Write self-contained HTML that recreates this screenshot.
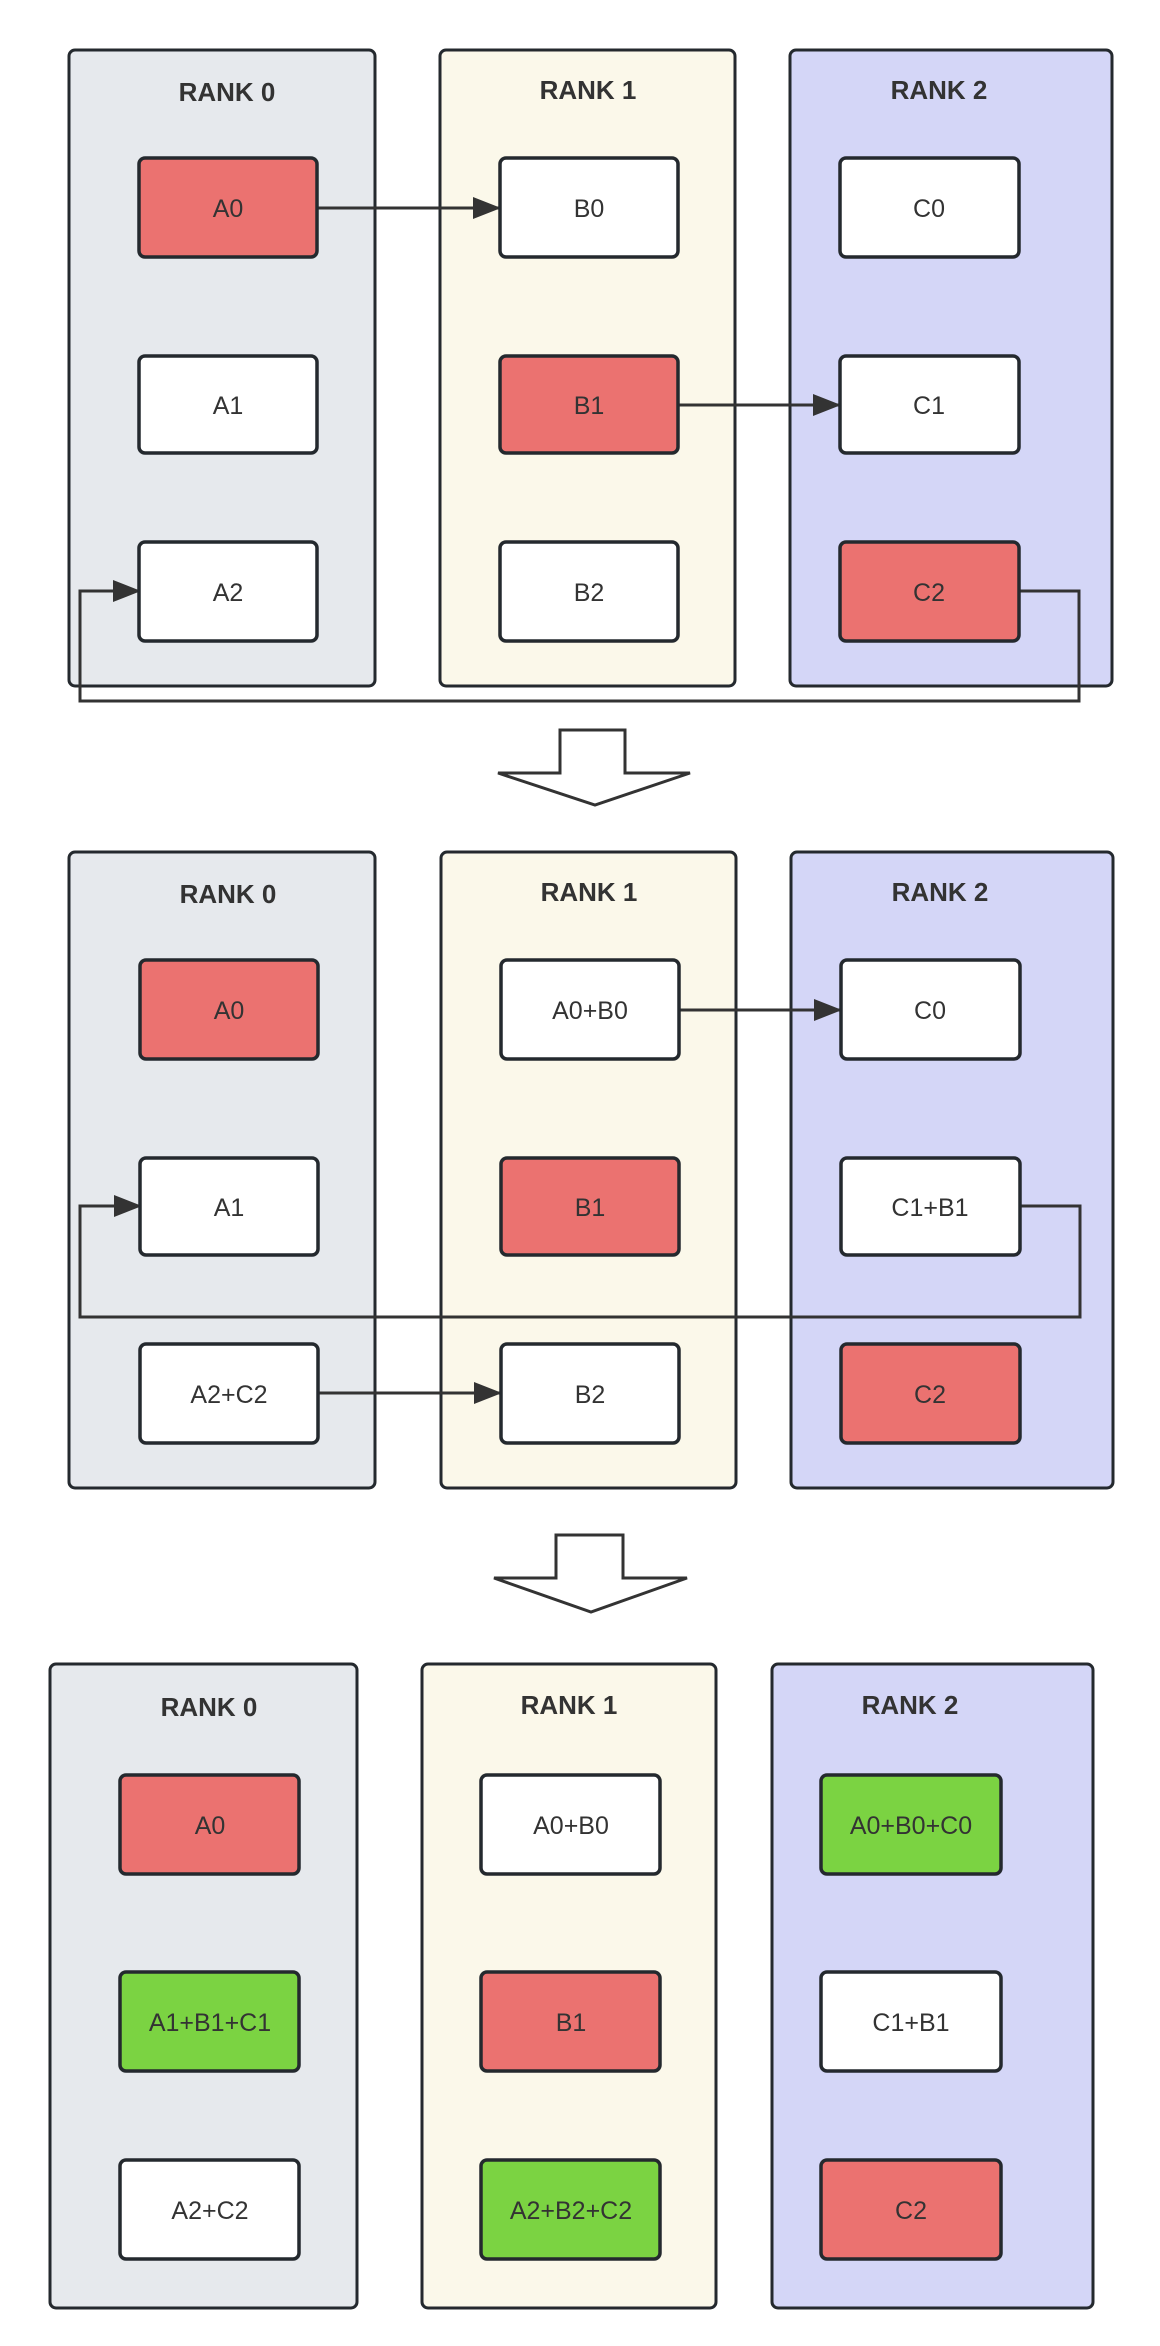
<!DOCTYPE html>
<html><head><meta charset="utf-8"><style>
html,body{margin:0;padding:0;background:#fff;}
svg{display:block;}
text{font-family:"Liberation Sans",sans-serif;fill:#333;}
.t{font-size:26px;font-weight:bold;}
.l{font-size:25px;}
</style></head><body>
<svg width="1160" height="2346" viewBox="0 0 1160 2346" xmlns="http://www.w3.org/2000/svg">
<defs>
<marker id="ah" markerWidth="28" markerHeight="22" refX="27" refY="11" orient="auto" markerUnits="userSpaceOnUse">
<path d="M0,0 L28,11 L0,22 Z" fill="#333"/>
</marker>
</defs>
<g stroke="#24292e" stroke-width="3">
<g>
<rect x="69" y="50" width="306" height="636" rx="6" fill="#e6e9ed"/>
<rect x="440" y="50" width="295" height="636" rx="6" fill="#fbf8ea"/>
<rect x="790" y="50" width="322" height="636" rx="6" fill="#d4d6f7"/>
</g>
<g>
<rect x="69" y="852" width="306" height="636" rx="6" fill="#e6e9ed"/>
<rect x="441" y="852" width="295" height="636" rx="6" fill="#fbf8ea"/>
<rect x="791" y="852" width="322" height="636" rx="6" fill="#d4d6f7"/>
</g>
<g>
<rect x="50" y="1664" width="307" height="644" rx="6" fill="#e6e9ed"/>
<rect x="422" y="1664" width="294" height="644" rx="6" fill="#fbf8ea"/>
<rect x="772" y="1664" width="321" height="644" rx="6" fill="#d4d6f7"/>
</g>
</g>
<g fill="none" stroke="#333" stroke-width="3">
<line x1="318" y1="208" x2="500" y2="208" marker-end="url(#ah)"/>
<line x1="678" y1="405" x2="840" y2="405" marker-end="url(#ah)"/>
<polyline points="1020,591 1079,591 1079,701 80,701 80,591 140,591" marker-end="url(#ah)"/>
<line x1="679" y1="1010" x2="841" y2="1010" marker-end="url(#ah)"/>
<polyline points="1021,1206 1080,1206 1080,1317 80,1317 80,1206 141,1206" marker-end="url(#ah)"/>
<line x1="319" y1="1393" x2="501" y2="1393" marker-end="url(#ah)"/>
</g>
<g stroke="#24292e" stroke-width="3.5">
<rect x="139" y="158" width="178" height="99" rx="6" fill="#eb7270"/>
<rect x="139" y="356" width="178" height="97" rx="6" fill="#fff"/>
<rect x="139" y="542" width="178" height="99" rx="6" fill="#fff"/>
<rect x="500" y="158" width="178" height="99" rx="6" fill="#fff"/>
<rect x="500" y="356" width="178" height="97" rx="6" fill="#eb7270"/>
<rect x="500" y="542" width="178" height="99" rx="6" fill="#fff"/>
<rect x="840" y="158" width="179" height="99" rx="6" fill="#fff"/>
<rect x="840" y="356" width="179" height="97" rx="6" fill="#fff"/>
<rect x="840" y="542" width="179" height="99" rx="6" fill="#eb7270"/>

<rect x="140" y="960" width="178" height="99" rx="6" fill="#eb7270"/>
<rect x="140" y="1158" width="178" height="97" rx="6" fill="#fff"/>
<rect x="140" y="1344" width="178" height="99" rx="6" fill="#fff"/>
<rect x="501" y="960" width="178" height="99" rx="6" fill="#fff"/>
<rect x="501" y="1158" width="178" height="97" rx="6" fill="#eb7270"/>
<rect x="501" y="1344" width="178" height="99" rx="6" fill="#fff"/>
<rect x="841" y="960" width="179" height="99" rx="6" fill="#fff"/>
<rect x="841" y="1158" width="179" height="97" rx="6" fill="#fff"/>
<rect x="841" y="1344" width="179" height="99" rx="6" fill="#eb7270"/>

<rect x="120" y="1775" width="179" height="99" rx="6" fill="#eb7270"/>
<rect x="120" y="1972" width="179" height="99" rx="6" fill="#7bd342"/>
<rect x="120" y="2160" width="179" height="99" rx="6" fill="#fff"/>
<rect x="481" y="1775" width="179" height="99" rx="6" fill="#fff"/>
<rect x="481" y="1972" width="179" height="99" rx="6" fill="#eb7270"/>
<rect x="481" y="2160" width="179" height="99" rx="6" fill="#7bd342"/>
<rect x="821" y="1775" width="180" height="99" rx="6" fill="#7bd342"/>
<rect x="821" y="1972" width="180" height="99" rx="6" fill="#fff"/>
<rect x="821" y="2160" width="180" height="99" rx="6" fill="#eb7270"/>
</g>
<g fill="#fff" stroke="#333" stroke-width="3">
<polygon points="560,730 625,730 625,773 690,773 595,805 498,773 560,773"/>
<polygon points="556,1535 623,1535 623,1578 687,1578 591,1612 494,1578 556,1578"/>
</g>
<g text-anchor="middle">
<text class="t" x="227" y="101">RANK 0</text>
<text class="t" x="588" y="99">RANK 1</text>
<text class="t" x="939" y="99">RANK 2</text>
<text class="t" x="228" y="903">RANK 0</text>
<text class="t" x="589" y="901">RANK 1</text>
<text class="t" x="940" y="901">RANK 2</text>
<text class="t" x="209" y="1716">RANK 0</text>
<text class="t" x="569" y="1714">RANK 1</text>
<text class="t" x="910" y="1714">RANK 2</text>
</g>
<g text-anchor="middle">
<text class="l" x="228" y="217">A0</text>
<text class="l" x="228" y="414">A1</text>
<text class="l" x="228" y="601">A2</text>
<text class="l" x="589" y="217">B0</text>
<text class="l" x="589" y="414">B1</text>
<text class="l" x="589" y="601">B2</text>
<text class="l" x="929" y="217">C0</text>
<text class="l" x="929" y="414">C1</text>
<text class="l" x="929" y="601">C2</text>

<text class="l" x="229" y="1019">A0</text>
<text class="l" x="229" y="1216">A1</text>
<text class="l" x="229" y="1403">A2+C2</text>
<text class="l" x="590" y="1019">A0+B0</text>
<text class="l" x="590" y="1216">B1</text>
<text class="l" x="590" y="1403">B2</text>
<text class="l" x="930" y="1019">C0</text>
<text class="l" x="930" y="1216">C1+B1</text>
<text class="l" x="930" y="1403">C2</text>

<text class="l" x="210" y="1834">A0</text>
<text class="l" x="210" y="2031">A1+B1+C1</text>
<text class="l" x="210" y="2219">A2+C2</text>
<text class="l" x="571" y="1834">A0+B0</text>
<text class="l" x="571" y="2031">B1</text>
<text class="l" x="571" y="2219">A2+B2+C2</text>
<text class="l" x="911" y="1834">A0+B0+C0</text>
<text class="l" x="911" y="2031">C1+B1</text>
<text class="l" x="911" y="2219">C2</text>
</g>
</svg>
</body></html>
